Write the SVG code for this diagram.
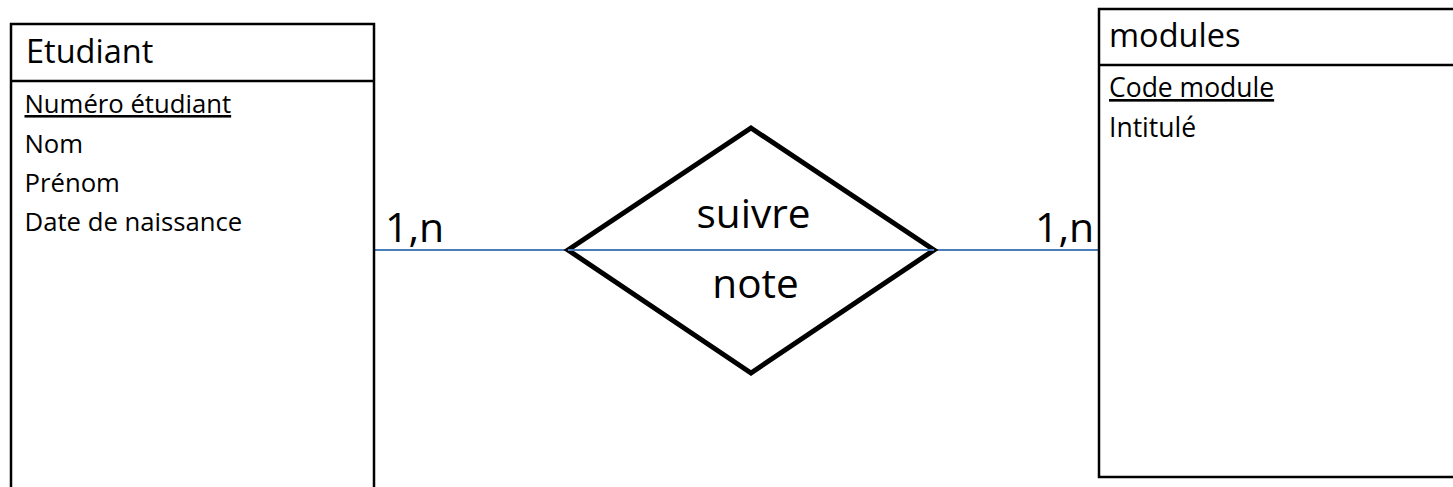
<svg xmlns="http://www.w3.org/2000/svg" width="1453" height="487" viewBox="0 0 1453 487">
<style>
  .box{fill:#fff;stroke:#000;stroke-width:2.5}
  .sep{stroke:#000;stroke-width:2.5}
  .dia{fill:#fff;stroke:#000;stroke-width:5;stroke-linejoin:miter}
  .conn{stroke:#4a7ebb;stroke-width:1.8;fill:none}
  text{font-family:"Open Sans","Noto Sans","Liberation Sans",sans-serif;fill:#000}
  .title{font-size:32.5px}
  .attr{font-size:25.7px}
  .attr2{font-size:26.5px}
  .card{font-size:41px}
  .rel{font-size:40.5px;text-anchor:middle}
  .key{text-decoration:underline}
</style>
<rect width="1453" height="487" fill="#fff"/>
<g id="connectors">
  <line class="conn" x1="375" y1="250" x2="568" y2="250"/>
  <line class="conn" x1="934" y1="250" x2="1099" y2="250"/>
  <text class="card" x="385" y="242">1,n</text>
  <text class="card" x="1035" y="242">1,n</text>
</g>
<g id="etudiant">
  <rect class="box" x="11" y="24" width="363" height="480"/>
  <line class="sep" x1="11" y1="81" x2="374" y2="81"/>
  <text class="title" x="26" y="63">Etudiant</text>
  <text class="attr key" x="24.5" y="113">Numéro étudiant</text>
  <text class="attr" x="24.5" y="153">Nom</text>
  <text class="attr" x="24.5" y="192">Prénom</text>
  <text class="attr" x="24.5" y="231">Date de naissance</text>
</g>
<g id="modules">
  <rect class="box" x="1099" y="9" width="380" height="468"/>
  <line class="sep" x1="1099" y1="65" x2="1460" y2="65"/>
  <text class="title" x="1109" y="47">modules</text>
  <text class="attr2 key" x="1109" y="97">Code module</text>
  <text class="attr2" x="1109" y="137">Intitulé</text>
</g>
<g id="suivre">
  <polygon class="dia" points="751,128 934,250 751,373 568,250"/>
  <line class="conn" x1="568" y1="250" x2="934" y2="250"/>
  <text class="rel" x="753.5" y="228">suivre</text>
  <text class="rel" x="755.5" y="298">note</text>
</g>
</svg>
